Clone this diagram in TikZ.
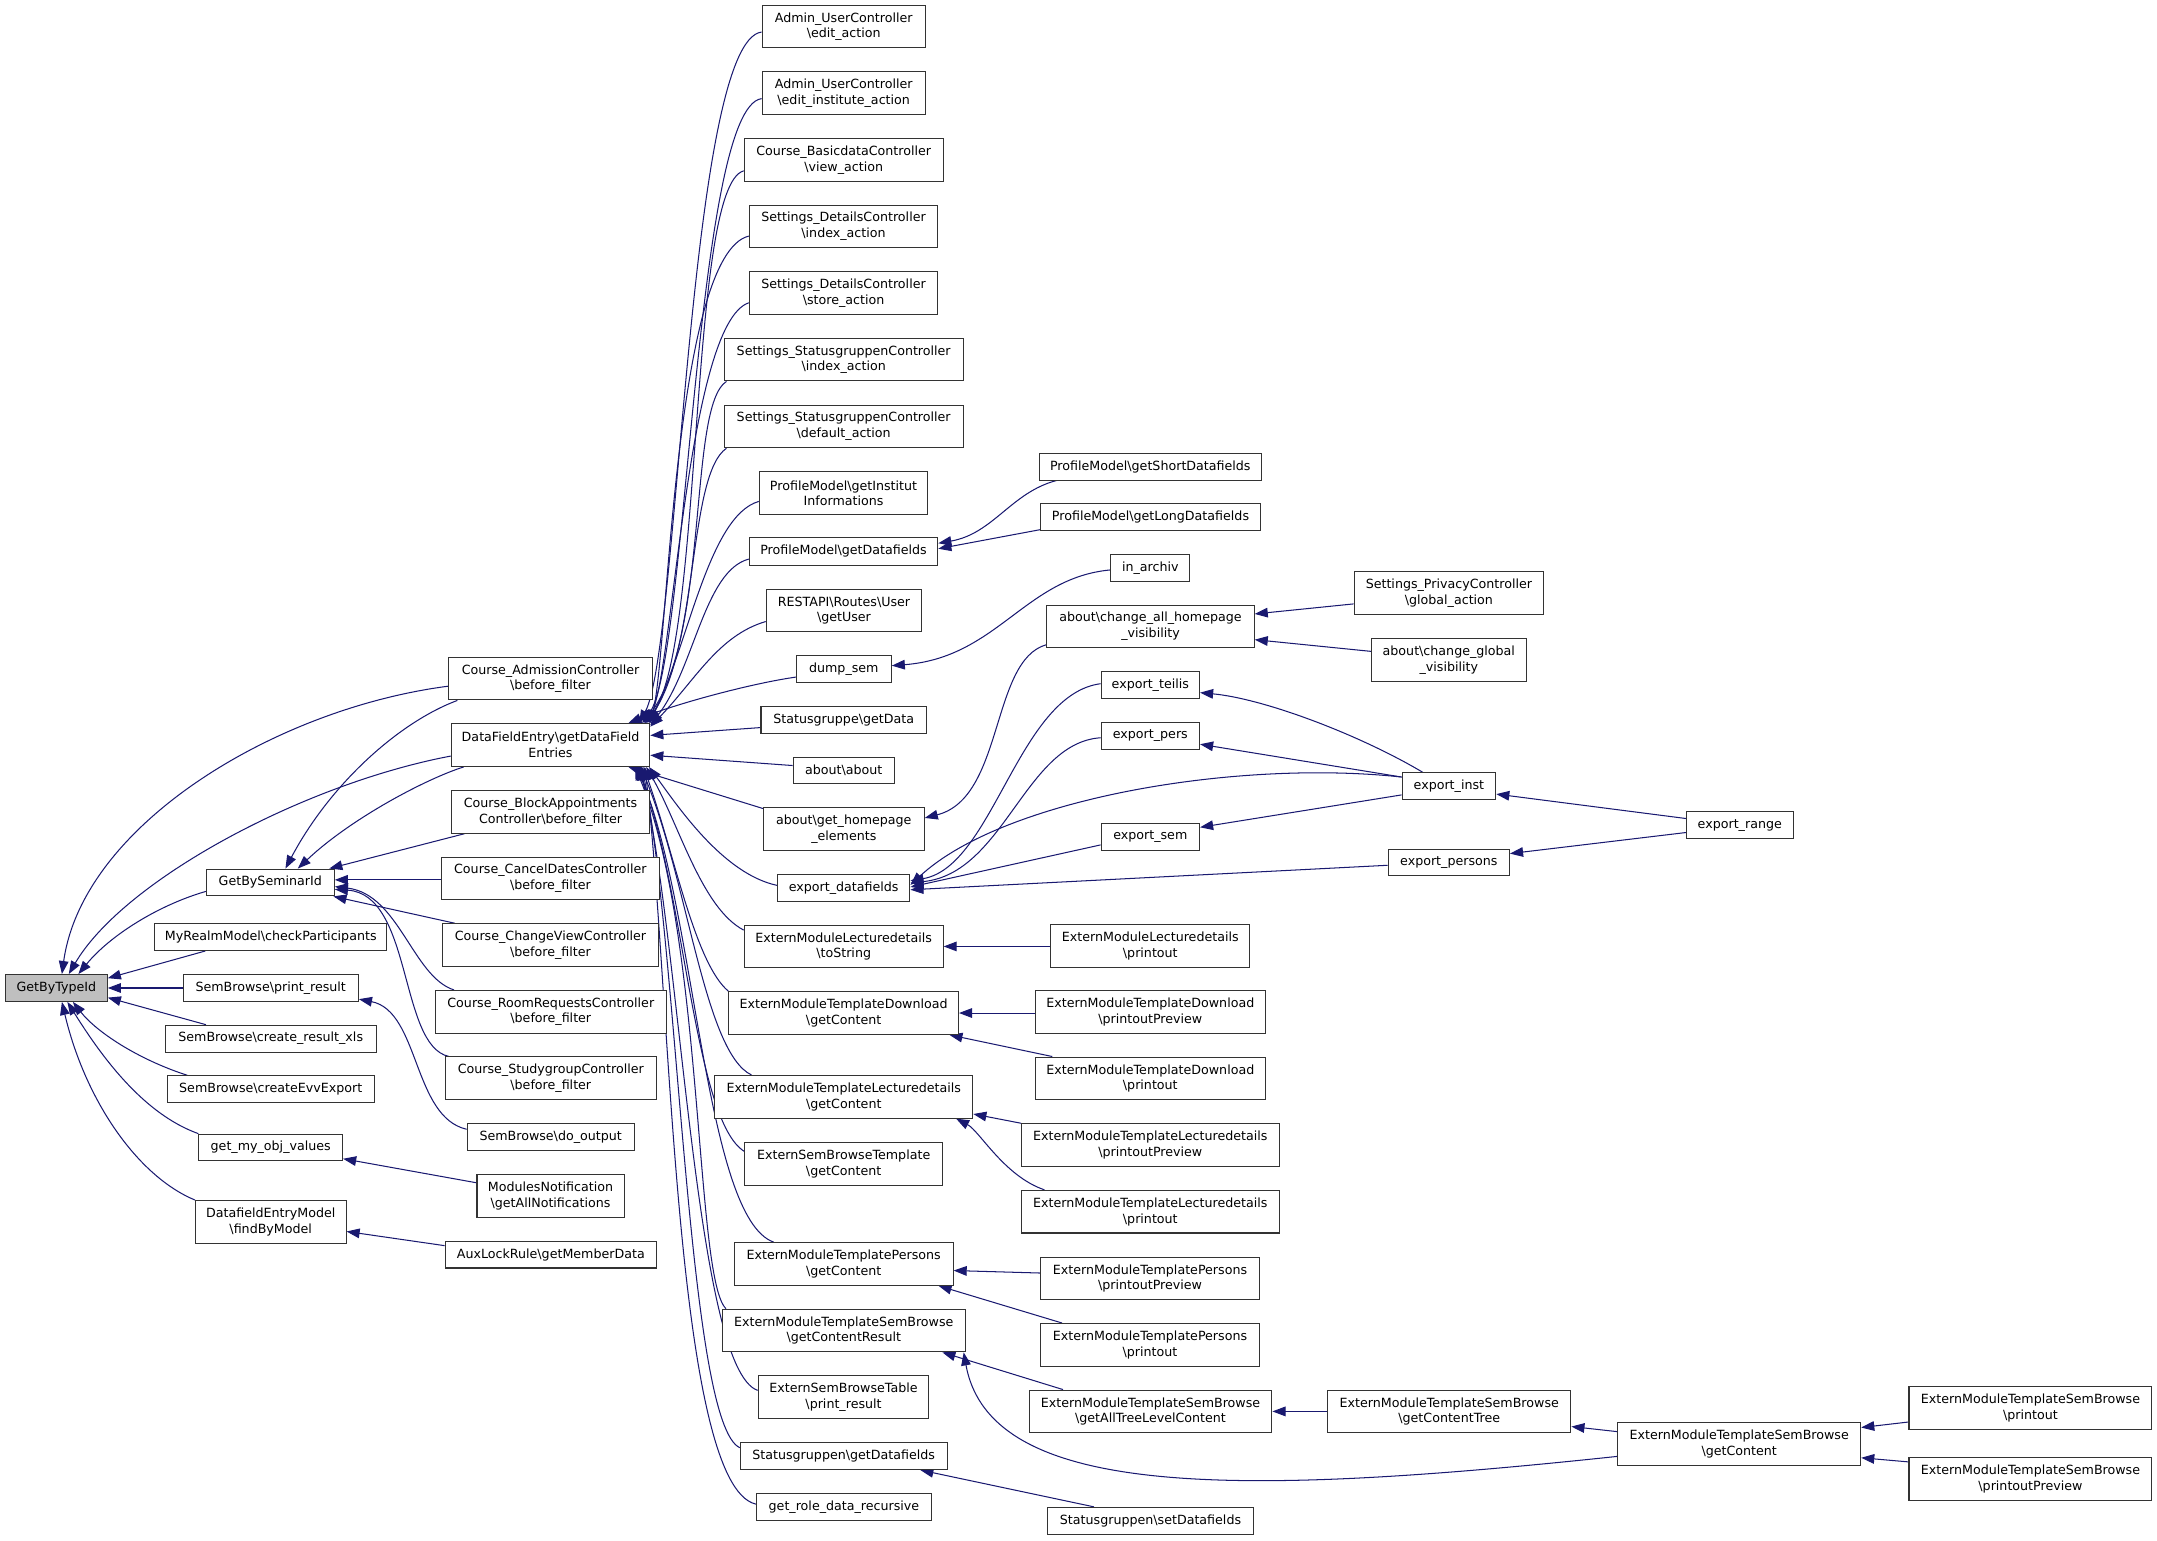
\documentclass[tikz,border=0pt]{standalone}
\usepackage{fontspec}
\setmainfont{DejaVu Sans}
\usetikzlibrary{arrows.meta,calc,backgrounds}
\definecolor{edgec}{RGB}{25,25,112}
\definecolor{boxc}{RGB}{51,51,51}
\definecolor{rootc}{RGB}{191,191,191}
\newcommand{\bsl}{\textbackslash}
\tikzset{
  nd/.style={draw=boxc, fill=white, line width=0.75pt, inner sep=0pt, rectangle,
    minimum height=19.5pt, align=center, font=\fontsize{9.2pt}{11.4pt}\selectfont},
  ndd/.style={nd, minimum height=31pt},
  edge/.style={draw=edgec, line width=0.75pt, -{Triangle[length=9.5pt,width=7pt]}}
}
\begin{document}
\begin{tikzpicture}[x=1pt,y=-1pt]
\useasboundingbox (0,0) rectangle (1568,1120.2);
% column 1
\node[nd, fill=rootc, minimum width=74pt] (G) at (41,718.2) {GetByTypeId};
% column 2
\node[nd, minimum width=93pt] (GS) at (196.5,641.5) {GetBySeminarId};
\node[nd, minimum width=168.5pt] (MR) at (196.8,681.2) {MyRealmModel\bsl checkParticipants};
\node[nd, minimum width=127.5pt] (PR) at (196.8,718.2) {SemBrowse\bsl print\_result};
\node[nd, minimum width=153.5pt] (CX) at (196.8,755) {SemBrowse\bsl create\_result\_xls};
\node[nd, minimum width=150.5pt] (CE) at (196.8,791.8) {SemBrowse\bsl createEvvExport};
\node[nd, minimum width=104.5pt] (GM) at (196.8,834.2) {get\_my\_obj\_values};
\node[ndd, minimum width=109.5pt] (DM) at (196.8,888.2) {DatafieldEntryModel\\\bsl findByModel};
% column 3
\node[ndd, minimum width=147.7pt] (CA) at (400.2,493.3) {Course\_AdmissionController\\\bsl before\_filter};
\node[ndd, minimum width=144.3pt] (DFE) at (400.2,541.6) {DataFieldEntry\bsl getDataField\\Entries};
\node[ndd, minimum width=144.5pt] (CB) at (400.2,590.2) {Course\_BlockAppointments\\Controller\bsl before\_filter};
\node[ndd, minimum width=158.2pt] (CCD) at (400.1,638.6) {Course\_CancelDatesController\\\bsl before\_filter};
\node[ndd, minimum width=156.5pt] (CCV) at (400.2,687) {Course\_ChangeViewController\\\bsl before\_filter};
\node[ndd, minimum width=168pt] (CRR) at (400.4,735.5) {Course\_RoomRequestsController\\\bsl before\_filter};
\node[ndd, minimum width=153.7pt] (CS) at (400.4,783.8) {Course\_StudygroupController\\\bsl before\_filter};
\node[nd, minimum width=121.4pt] (DO) at (400.3,826.4) {SemBrowse\bsl do\_output};
\node[ndd, minimum width=106.9pt] (MN) at (400.2,869.3) {ModulesNotification\\\bsl getAllNotifications};
\node[nd, minimum width=153.7pt] (AL) at (400.4,912) {AuxLockRule\bsl getMemberData};
% column 4
\node[ndd, minimum width=118.6pt] (A1) at (613.3,19.3) {Admin\_UserController\\\bsl edit\_action};
\node[ndd, minimum width=118.6pt] (A2) at (613.3,67.7) {Admin\_UserController\\\bsl edit\_institute\_action};
\node[ndd, minimum width=144.6pt] (A3) at (613.3,116.2) {Course\_BasicdataController\\\bsl view\_action};
\node[ndd, minimum width=137pt] (A4) at (613.2,164.6) {Settings\_DetailsController\\\bsl index\_action};
\node[ndd, minimum width=137pt] (A5) at (613.2,213.1) {Settings\_DetailsController\\\bsl store\_action};
\node[ndd, minimum width=173.7pt] (A6) at (613.3,261.4) {Settings\_StatusgruppenController\\\bsl index\_action};
\node[ndd, minimum width=173.7pt] (A7) at (613.3,310) {Settings\_StatusgruppenController\\\bsl default\_action};
\node[ndd, minimum width=122.5pt] (A8) at (613.2,358.5) {ProfileModel\bsl getInstitut\\Informations};
\node[nd, minimum width=137pt, minimum height=19.8pt] (PG) at (613.2,400.9) {ProfileModel\bsl getDatafields};
\node[ndd, minimum width=113pt] (RU) at (613.5,443.8) {RESTAPI\bsl Routes\bsl User\\\bsl getUser};
\node[nd, minimum width=69pt] (DS) at (613.4,486.2) {dump\_sem};
\node[nd, minimum width=120.2pt] (SG) at (613.3,523.2) {Statusgruppe\bsl getData};
\node[nd, minimum width=73.4pt] (AA) at (613.3,560.1) {about\bsl about};
\node[ndd, minimum width=116.9pt] (GH) at (613.4,602.6) {about\bsl get\_homepage\\\_elements};
\node[nd, minimum width=96.3pt] (ED) at (613.3,645.3) {export\_datafields};
\node[ndd, minimum width=144.6pt] (LT) at (613.3,688) {ExternModuleLecturedetails\\\bsl toString};
\node[ndd, minimum width=166.9pt] (DG) at (613.3,736.4) {ExternModuleTemplateDownload\\\bsl getContent};
\node[ndd, minimum width=187.5pt] (LG) at (613.4,797.3) {ExternModuleTemplateLecturedetails\\\bsl getContent};
\node[ndd, minimum width=143.6pt] (BT) at (613.3,846) {ExternSemBrowseTemplate\\\bsl getContent};
\node[ndd, minimum width=159.1pt] (PGc) at (613.3,918.8) {ExternModuleTemplatePersons\\\bsl getContent};
\node[ndd, minimum width=176.5pt] (GCR) at (613.4,967.2) {ExternModuleTemplateSemBrowse\\\bsl getContentResult};
\node[ndd, minimum width=124.1pt] (TB) at (613.2,1015.7) {ExternSemBrowseTable\\\bsl print\_result};
\node[nd, minimum width=150.3pt] (SD) at (613.3,1058.5) {Statusgruppen\bsl getDatafields};
\node[nd, minimum width=127.2pt] (RD) at (613.5,1095.4) {get\_role\_data\_recursive};
% column 5
\node[nd, minimum width=161.8pt] (PS) at (836.2,339.2) {ProfileModel\bsl getShortDatafields};
\node[nd, minimum width=159.3pt] (PL) at (836.35,376) {ProfileModel\bsl getLongDatafields};
\node[nd, minimum width=57.2pt] (IA) at (836.2,412.9) {in\_archiv};
\node[ndd, minimum width=150.7pt] (CAH) at (836.35,455.4) {about\bsl change\_all\_homepage\\\_visibility};
\node[nd, minimum width=71.6pt] (ET) at (836.2,498) {export\_teilis};
\node[nd, minimum width=71.6pt] (EP) at (836.2,535) {export\_pers};
\node[nd, minimum width=71.6pt] (ES) at (836.2,608.4) {export\_sem};
\node[ndd, minimum width=144.6pt] (LP) at (836.2,687.7) {ExternModuleLecturedetails\\\bsl printout};
\node[ndd, minimum width=167pt] (DPP) at (836.2,735.5) {ExternModuleTemplateDownload\\\bsl printoutPreview};
\node[ndd, minimum width=167pt] (DP) at (836.2,783.9) {ExternModuleTemplateDownload\\\bsl printout};
\node[ndd, minimum width=187.2pt] (LPP) at (836.2,832.4) {ExternModuleTemplateLecturedetails\\\bsl printoutPreview};
\node[ndd, minimum width=187.2pt] (LPO) at (836.2,880.8) {ExternModuleTemplateLecturedetails\\\bsl printout};
\node[ndd, minimum width=159.3pt] (PPP) at (836,929.4) {ExternModuleTemplatePersons\\\bsl printoutPreview};
\node[ndd, minimum width=159.3pt] (PPO) at (836,977.6) {ExternModuleTemplatePersons\\\bsl printout};
\node[ndd, minimum width=176.5pt] (AT) at (836.35,1026) {ExternModuleTemplateSemBrowse\\\bsl getAllTreeLevelContent};
\node[nd, minimum width=149.5pt] (SDs) at (836.35,1105.5) {Statusgruppen\bsl setDatafields};
% column 6
\node[ndd, minimum width=137.7pt] (PC) at (1053.25,431.2) {Settings\_PrivacyController\\\bsl global\_action};
\node[ndd, minimum width=112.4pt] (CG) at (1053.2,479.75) {about\bsl change\_global\\\_visibility};
\node[nd, minimum width=68.1pt] (EI) at (1053.25,571.55) {export\_inst};
\node[nd, minimum width=88.2pt] (EPS) at (1053.2,627) {export\_persons};
\node[ndd, minimum width=176.8pt] (CT) at (1053.5,1026) {ExternModuleTemplateSemBrowse\\\bsl getContentTree};
% column 7
\node[nd, minimum width=77.6pt] (ER) at (1264.7,600) {export\_range};
\node[ndd, minimum width=176.6pt] (SBG) at (1264.3,1049.7) {ExternModuleTemplateSemBrowse\\\bsl getContent};
% column 8
\node[ndd, minimum width=176.6pt] (SBP) at (1476,1023.7) {ExternModuleTemplateSemBrowse\\\bsl printout};
\node[ndd, minimum width=176.6pt] (SBV) at (1476,1075.2) {ExternModuleTemplateSemBrowse\\\bsl printoutPreview};

\begin{scope}[on background layer]
% into GetByTypeId
\draw[edge] ($(CA.west)+(0,5.5)$) .. controls (200,515) and (60,600) .. ($(G.north)+(4,0)$);
\draw[edge] ($(DFE.west)+(0,8)$) .. controls (220,570) and (90,640) .. ($(G.north)+(9,0)$);
\draw[edge] ($(GS.west)+(0,6.5)$) .. controls (115,658) and (80,680) .. ($(G.north)+(16,0)$);
\draw[edge] ($(MR.south west)+(37,0)$) -- ($(G.north east)+(0,3)$);
\draw[edge] (PR.west) -- (G.east);
\draw[edge] ($(CX.north west)+(30,0)$) -- ($(G.east)+(0,7)$);
\draw[edge] ($(CE.north west)+(15,0)$) .. controls (100,770) and (70,750) .. ($(G.south)+(12,0)$);
\draw[edge] (GM.north west) .. controls (105,810) and (75,770) .. ($(G.south)+(8,0)$);
\draw[edge] (DM.north west) .. controls (100,855) and (62,800) .. ($(G.south)+(4,0)$);
% into GetBySeminarId
\draw[edge] ($(CA.south west)+(6.5,0)$) .. controls (290,525) and (240,570) .. ($(GS.north)+(11,0)$);
\draw[edge] ($(DFE.south west)+(9.5,0)$) .. controls (310,566) and (255,595) .. ($(GS.north)+(20,0)$);
\draw[edge] ($(CB.south west)+(10,0)$) -- ($(GS.north east)+(-4,0)$);
\draw[edge] ($(CCD.west)+(0,1)$) -- ($(GS.east)+(0,-1.9)$);
\draw[edge] ($(CCV.north west)+(9,0)$) -- ($(GS.south east)+(-1,0)$);
\draw[edge] ($(CRR.north west)+(14,0)$) .. controls (300,710) and (290,650) .. ($(GS.east)+(0,3)$);
\draw[edge] ($(CS.north west)+(3,0)$) .. controls (290,760) and (300,650) .. ($(GS.east)+(0,5)$);
% other column 2 callees
\draw[edge] ($(DO.west)+(0,-5.5)$) .. controls (300,812) and (305,735) .. ($(PR.south east)+(0,-2)$);
\draw[edge] ($(MN.west)+(0,-9.5)$) -- ($(GM.south east)+(0,-2)$);
\draw[edge] ($(AL.west)+(0,-6.5)$) -- ($(DM.east)+(0,7)$);
% into DataFieldEntry, upper group
\draw[edge] ($(A1.west)+(0,4)$) .. controls (500,30) and (494,470) .. ($(DFE.north east)+(-8,0)$);
\draw[edge] ($(A2.west)+(0,4)$) .. controls (505,78) and (500,480) .. ($(DFE.north east)+(-6,0)$);
\draw[edge] ($(A3.west)+(0,8)$) .. controls (500,135) and (512,470) .. ($(DFE.north east)+(-4,0)$);
\draw[edge] ($(A4.west)+(0,7)$) .. controls (490,185) and (486,470) .. (DFE.north east);
\draw[edge] ($(A5.west)+(0,7)$) .. controls (500,235) and (490,480) .. ($(DFE.north east)+(-2,0)$);
\draw[edge] ($(A6.south west)+(2,0)$) .. controls (500,295) and (516,460) .. ($(DFE.north east)+(-5,0)$);
\draw[edge] ($(A7.south west)+(2,0)$) .. controls (500,345) and (508,470) .. ($(DFE.north east)+(-3,0)$);
\draw[edge] ($(A8.west)+(0,6)$) .. controls (515,375) and (500,470) .. ($(DFE.north east)+(-1,0)$);
\draw[edge] ($(PG.west)+(0,5.5)$) .. controls (512,415) and (505,485) .. ($(DFE.north east)+(0,1.5)$);
\draw[edge] ($(RU.west)+(0,8)$) .. controls (522,462) and (505,495) .. ($(DFE.north east)+(0,2.5)$);
\draw[edge] ($(DS.west)+(0,6)$) .. controls (545,497) and (490,512) .. ($(DFE.north east)+(-16,0)$);
% right side
\draw[edge] ($(SG.west)+(0,5.7)$) -- ($(DFE.east)+(0,-7)$);
\draw[edge] ($(AA.west)+(0,-3.6)$) -- ($(DFE.east)+(0,7.4)$);
% lower group
\draw[edge] ($(GH.north west)+(0,1)$) -- ($(DFE.south east)+(-16,0)$);
\draw[edge] ($(ED.west)+(0,-1.7)$) .. controls (525,635) and (492,585) .. ($(DFE.south east)+(-1,0)$);
\draw[edge] ($(LT.north west)+(0,4)$) .. controls (510,660) and (494,600) .. ($(DFE.south east)+(-3,0)$);
\draw[edge] (DG.north west) .. controls (505,700) and (490,620) .. ($(DFE.south east)+(-5,0)$);
\draw[edge] ($(LG.north west)+(27,0)$) .. controls (512,765) and (500,640) .. ($(DFE.south east)+(-7,0)$);
\draw[edge] ($(BT.west)+(0,-9)$) .. controls (505,815) and (498,650) .. ($(DFE.south east)+(-9,0)$);
\draw[edge] ($(PGc.north west)+(29,0)$) .. controls (512,885) and (506,660) .. ($(DFE.south east)+(-10,0)$);
\draw[edge] ($(GCR.north west)+(3,0)$) .. controls (505,930) and (512,680) .. ($(DFE.south east)+(-11,0)$);
\draw[edge] ($(TB.west)+(0,-5)$) .. controls (505,995) and (495,680) .. ($(DFE.south east)+(-8,0)$);
\draw[edge] ($(SD.north west)+(0,4)$) .. controls (500,1035) and (494,700) .. ($(DFE.south east)+(-6,0)$);
\draw[edge] ($(RD.west)+(0,-2)$) .. controls (490,1080) and (488,720) .. ($(DFE.south east)+(-4,0)$);
% column 5 and beyond
\draw[edge] ($(PS.south west)+(13,0)$) .. controls (735,358) and (722,388) .. ($(PG.east)+(0,-6)$);
\draw[edge] ($(PL.west)+(0,9)$) -- ($(PG.east)+(0,-2)$);
\draw[edge] ($(IA.west)+(0,1.4)$) .. controls (745,420) and (725,478) .. ($(DS.east)+(0,-2.3)$);
\draw[edge] ($(CAH.south west)+(0,-2.6)$) .. controls (720,480) and (730,580) .. ($(GH.east)+(0,-8)$);
\draw[edge] ($(ET.west)+(0,-1)$) .. controls (740,505) and (722,630) .. ($(ED.east)+(0,-5)$);
\draw[edge] ($(EP.west)+(0,1.3)$) .. controls (745,540) and (730,635) .. ($(ED.east)+(0,-3.5)$);
\draw[edge] ($(EI.west)+(0,-6.7)$) .. controls (900,552) and (730,580) .. ($(ED.east)+(0,-2)$);
\draw[edge] ($(ES.west)+(0,5.8)$) -- ($(ED.east)+(0,-0.5)$);
\draw[edge] ($(EPS.west)+(0,2)$) -- ($(ED.east)+(0,1.5)$);
\draw[edge] ($(EI.north)+(-19,0)$) .. controls (990,535) and (920,508) .. ($(ET.east)+(0,5.5)$);
\draw[edge] ($(EI.west)+(0,-6.7)$) -- ($(EP.east)+(0,6)$);
\draw[edge] ($(EI.west)+(0,6.3)$) -- ($(ES.east)+(0,-7)$);
\draw[edge] ($(ER.west)+(0,-5)$) -- ($(EI.east)+(0,5.7)$);
\draw[edge] ($(ER.west)+(0,5.2)$) -- ($(EPS.east)+(0,-6.5)$);
\draw[edge] ($(PC.west)+(0,7.8)$) -- ($(CAH.east)+(0,-9.1)$);
\draw[edge] ($(CG.west)+(0,-6.25)$) -- ($(CAH.east)+(0,9.6)$);
\draw[edge] (LP.west |- LT.east) -- (LT.east);
\draw[edge] (DPP.west |- DG.east) -- (DG.east);
\draw[edge] ($(DP.north west)+(12.6,0)$) -- ($(DG.south east)+(-7,0)$);
\draw[edge] (LPP.north west) -- ($(LG.east)+(0,12.5)$);
\draw[edge] ($(LPO.north west)+(17,0)$) .. controls (730,855) and (712,822) .. ($(LG.south east)+(-12.5,0)$);
\draw[edge] ($(PPP.west)+(0,-4)$) -- ($(PGc.east)+(0,4.8)$);
\draw[edge] ($(PPO.north west)+(16,0)$) -- ($(PGc.south east)+(-11,0)$);
\draw[edge] ($(AT.north west)+(25,0)$) -- ($(GCR.south east)+(-17,0)$);
\draw[edge] (CT.west) -- (AT.east);
\draw[edge] ($(SBG.west)+(0,-9)$) -- ($(CT.east)+(0,11)$);
\draw[edge] ($(SBG.west)+(0,9)$) .. controls (900,1088) and (720,1090) .. ($(GCR.south east)+(-1.5,0)$);
\draw[edge] ($(SBP.west)+(0,10)$) -- ($(SBG.east)+(0,-12)$);
\draw[edge] ($(SBV.west)+(0,-12.5)$) -- ($(SBG.east)+(0,10)$);
\draw[edge] ($(SDs.north west)+(34,0)$) -- ($(SD.south east)+(-19.8,0)$);
\end{scope}
\end{tikzpicture}
\end{document}
